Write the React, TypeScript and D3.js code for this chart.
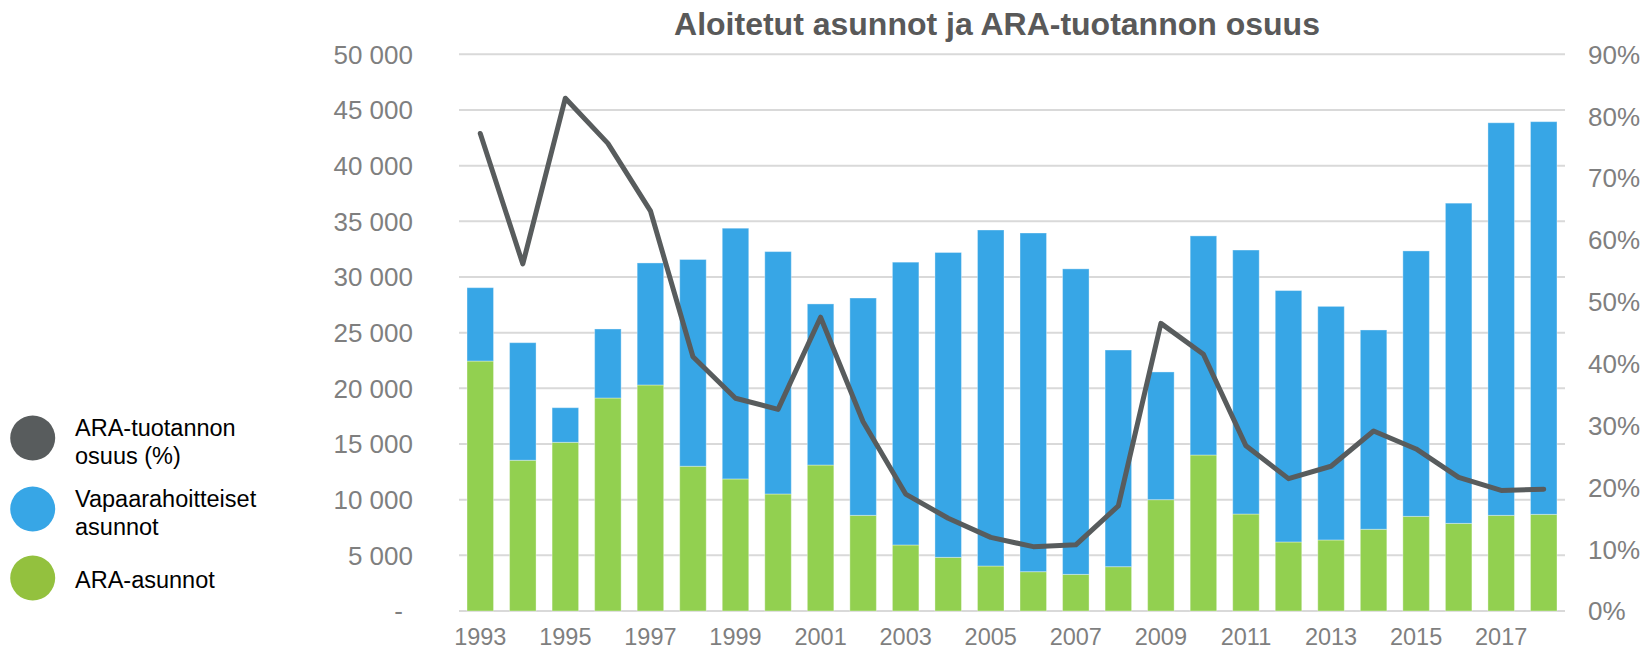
import * as React from "react";
import { useEffect, useRef } from "react";
import * as d3 from "d3";

// years on the x axis
const years = [
  1993, 1994, 1995, 1996, 1997, 1998, 1999, 2000, 2001, 2002, 2003, 2004, 2005,
  2006, 2007, 2008, 2009, 2010, 2011, 2012, 2013, 2014, 2015, 2016, 2017, 2018,
];

// ARA-asunnot (green, bottom of the stack)
const araHomes = [
  22450, 13540, 15150, 19130, 20300, 13000, 11860, 10510, 13110, 8590, 5930, 4820, 4040,
  3530, 3290, 3980, 10000, 14010, 8710, 6200, 6380, 7340, 8500, 7870, 8590, 8680,
];

// Vapaarahoitteiset asunnot (blue, top of the stack)
const freeHomes = [
  6590, 10560, 3110, 6200, 10960, 18570, 22520, 21770, 14470, 19520, 25400, 27380, 30180,
  30420, 27440, 19460, 11470, 19680, 23710, 22580, 20980, 17900, 23840, 28760, 35260, 35270,
];

// ARA-tuotannon osuus (%), right axis
const araShare = [
  77.2, 56.1, 82.9, 75.6, 64.7, 41.1, 34.4, 32.6, 47.5, 30.6, 18.9, 15.0, 11.9,
  10.4, 10.7, 17.0, 46.5, 41.5, 26.7, 21.4, 23.4, 29.1, 26.2, 21.6, 19.5, 19.7,
];

const leftTicks = [0, 5000, 10000, 15000, 20000, 25000, 30000, 35000, 40000, 45000, 50000];
const rightTicks = [0, 10, 20, 30, 40, 50, 60, 70, 80, 90];

const legendItems = [
  { lines: ["ARA-tuotannon", "osuus (%)"], color: "#585c5d" },
  { lines: ["Vapaarahoitteiset", "asunnot"], color: "#37a6e6" },
  { lines: ["ARA-asunnot"], color: "#93c13e" },
];

const FONT = "'Liberation Sans', Arial, sans-serif";

export default function App() {
  const ref = useRef<SVGSVGElement>(null);

  useEffect(() => {
    const W = 1645, H = 650;
    const margin = { top: 54.3, right: 80, bottom: 39, left: 459 };
    const svg = d3.select(ref.current);
    svg.selectAll("*").remove();

    const x = d3
      .scaleBand<number>()
      .domain(years)
      .range([margin.left, 1565])
      .paddingInner(0.377)
      .paddingOuter(0.1885);
    const y = d3.scaleLinear().domain([0, 50000]).range([H - margin.bottom, margin.top]);
    const y2 = d3.scaleLinear().domain([0, 90]).range([H - margin.bottom, margin.top]);

    // title
    svg.append("text")
      .attr("x", 997)
      .attr("y", 35)
      .attr("text-anchor", "middle")
      .attr("font-family", FONT)
      .attr("font-weight", "bold")
      .attr("font-size", 32)
      .attr("fill", "#595959")
      .text("Aloitetut asunnot ja ARA-tuotannon osuus");

    // gridlines
    svg.append("g")
      .selectAll("line")
      .data(leftTicks)
      .join("line")
      .attr("x1", margin.left)
      .attr("x2", 1565)
      .attr("y1", (d) => y(d))
      .attr("y2", (d) => y(d))
      .attr("stroke", "#d9d9d9")
      .attr("stroke-width", 2);

    // left axis labels
    const fmt = (d: number) => (d === 0 ? "-" : d3.format(",")(d).replace(",", " "));
    svg.append("g")
      .selectAll("text")
      .data(leftTicks)
      .join("text")
      .attr("x", (d) => (d === 0 ? 403 : 413))
      .attr("y", (d) => y(d))
      .attr("dy", "0.36em")
      .attr("text-anchor", "end")
      .attr("font-family", FONT)
      .attr("font-size", 26)
      .attr("fill", "#7f7f7f")
      .text(fmt);

    // right axis labels
    svg.append("g")
      .selectAll("text")
      .data(rightTicks)
      .join("text")
      .attr("x", 1588)
      .attr("y", (d) => y2(d))
      .attr("dy", "0.36em")
      .attr("font-family", FONT)
      .attr("font-size", 26)
      .attr("fill", "#7f7f7f")
      .text((d) => d + "%");

    // x axis labels, every other year
    svg.append("g")
      .selectAll("text")
      .data(years.filter((d, i) => i % 2 === 0))
      .join("text")
      .attr("x", (d) => x(d)! + x.bandwidth() / 2)
      .attr("y", 645)
      .attr("text-anchor", "middle")
      .attr("font-family", FONT)
      .attr("font-size", 23.5)
      .attr("fill", "#7f7f7f")
      .text((d) => d);

    // stacked bars
    const bars = svg.append("g");
    bars.selectAll("rect.ara")
      .data(years)
      .join("rect")
      .attr("class", "ara")
      .attr("x", (d) => x(d)!)
      .attr("width", x.bandwidth())
      .attr("y", (d, i) => y(araHomes[i]))
      .attr("height", (d, i) => y(0) - y(araHomes[i]))
      .attr("fill", "#92d050")
      .attr("stroke", "rgba(255,255,255,0.35)")
      .attr("stroke-width", 1);
    bars.selectAll("rect.free")
      .data(years)
      .join("rect")
      .attr("class", "free")
      .attr("x", (d) => x(d)!)
      .attr("width", x.bandwidth())
      .attr("y", (d, i) => y(araHomes[i] + freeHomes[i]))
      .attr("height", (d, i) => y(araHomes[i]) - y(araHomes[i] + freeHomes[i]))
      .attr("fill", "#37a6e6")
      .attr("stroke", "rgba(255,255,255,0.35)")
      .attr("stroke-width", 1);

    // share line
    const line = d3
      .line<number>()
      .x((d, i) => x(years[i])! + x.bandwidth() / 2)
      .y((d) => y2(d));
    svg.append("path")
      .datum(araShare)
      .attr("d", line)
      .attr("fill", "none")
      .attr("stroke", "#585c5d")
      .attr("stroke-width", 5)
      .attr("stroke-linejoin", "round")
      .attr("stroke-linecap", "round");

    // legend
    const legendY = [438, 509, 578];
    const lg = svg.append("g");
    legendItems.forEach((item, i) => {
      lg.append("circle")
        .attr("cx", 32.7)
        .attr("cy", legendY[i])
        .attr("r", 22.5)
        .attr("fill", item.color);
      const t = lg.append("text")
        .attr("font-family", FONT)
        .attr("font-size", 23.5)
        .attr("fill", "#000");
      const first = item.lines.length === 1 ? legendY[i] + 10 : legendY[i] - 2;
      item.lines.forEach((ln, j) => {
        t.append("tspan")
          .attr("x", 75)
          .attr("y", first + j * 27.5)
          .text(ln);
      });
    });
  }, []);

  return (
    <svg
      ref={ref}
      width={1645}
      height={650}
      style={{ position: "absolute", left: 0, top: 0, background: "#fff" }}
    />
  );
}
